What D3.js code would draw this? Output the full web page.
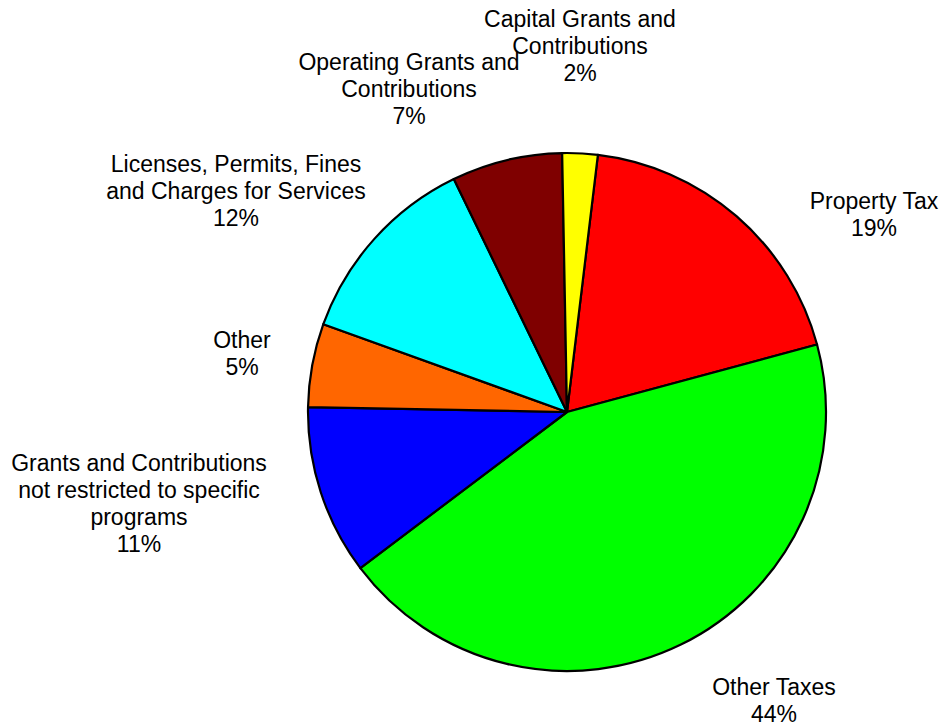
<!DOCTYPE html>
<html>
<head>
<meta charset="utf-8">
<script src="https://cdn.jsdelivr.net/npm/d3@7"></script>
<style>
  body { margin: 0; background: #fff; }
  text { font-family: Arial, "Liberation Sans", sans-serif; font-size: 23px; fill: #000; }
</style>
</head>
<body>
<svg id="pie" width="944" height="728"></svg>
<script>
// slices, clockwise from top
var categories = [
  "Property Tax",
  "Other Taxes",
  "Grants and Contributions not restricted to specific programs",
  "Other",
  "Licenses, Permits, Fines and Charges for Services",
  "Operating Grants and Contributions",
  "Capital Grants and Contributions"
];
var shares = [18.9, 43.9, 10.6, 5.2, 12.3, 6.9, 2.2];
var percentLabels = ["19%", "44%", "11%", "5%", "12%", "7%", "2%"];
var labelLines = [
  ["Property Tax"],
  ["Other Taxes"],
  ["Grants and Contributions", "not restricted to specific", "programs"],
  ["Other"],
  ["Licenses, Permits, Fines", "and Charges for Services"],
  ["Operating Grants and", "Contributions"],
  ["Capital Grants and", "Contributions"]
];

// layout
var colors = ["#ff0000", "#00ff00", "#0000ff", "#ff6600", "#00ffff", "#7f0000", "#ffff00"];
var labelPos = [[874, 209], [774, 695], [139, 471], [242, 348], [236, 172], [409, 70], [580, 27]];
var lineGap = 27;
var cx = 567, cy = 412, radius = 259;
var start = 6.85 * Math.PI / 180;

var svg = d3.select("#pie");
var pie = d3.pie().sort(null).value(function(d) { return d; })
    .startAngle(start).endAngle(start + 2 * Math.PI);
var arc = d3.arc().innerRadius(0).outerRadius(radius);

svg.append("g").attr("transform", "translate(" + cx + "," + cy + ")")
  .selectAll("path").data(pie(shares)).enter().append("path")
    .attr("d", arc)
    .attr("fill", function(d, i) { return colors[i]; })
    .attr("stroke", "#000")
    .attr("stroke-width", 2.2)
    .attr("stroke-linejoin", "round");

var labels = svg.selectAll("text.lbl").data(categories).enter().append("text")
    .attr("class", "lbl")
    .attr("text-anchor", "middle")
    .attr("x", function(d, i) { return labelPos[i][0]; })
    .attr("y", function(d, i) { return labelPos[i][1]; });

labels.each(function(d, i) {
  var t = d3.select(this);
  var lines = labelLines[i].concat([percentLabels[i]]);
  lines.forEach(function(s, j) {
    t.append("tspan")
      .attr("x", labelPos[i][0])
      .attr("dy", j === 0 ? 0 : lineGap)
      .text(s);
  });
});
</script>
</body>
</html>
